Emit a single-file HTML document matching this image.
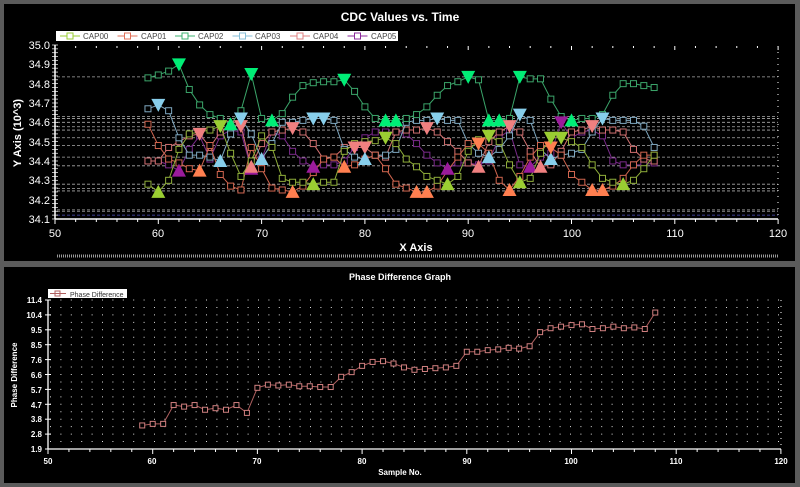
<!DOCTYPE html>
<html><head><meta charset="utf-8"><style>
html,body{margin:0;padding:0;background:#5b5b5b;width:800px;height:487px;overflow:hidden}
svg{display:block;font-family:"Liberation Sans",Arial,sans-serif}
</style></head><body>
<svg id="s" width="800" height="487" xmlns="http://www.w3.org/2000/svg">
<rect x="0" y="0" width="800" height="487" fill="#5b5b5b"/>
<rect x="4" y="4" width="791" height="257" fill="#000"/>
<rect x="4" y="267" width="791" height="216" fill="#000"/>
<text x="400" y="21" fill="#fff" font-size="12" font-weight="bold" text-anchor="middle">CDC Values vs. Time</text>
<rect x="56" y="31" width="342" height="10" fill="#fff"/>
<g font-size="8" fill="#444">
<text x="83" y="39">CAP00</text><text x="141" y="39">CAP01</text><text x="198" y="39">CAP02</text>
<text x="255" y="39">CAP03</text><text x="313" y="39">CAP04</text><text x="371" y="39">CAP05</text></g>
<g id="top"></g>
<g font-size="11" fill="#fff" text-anchor="end">
<text x="50" y="49">35.0</text><text x="50" y="68">34.9</text><text x="50" y="88">34.8</text><text x="50" y="107">34.7</text><text x="50" y="126">34.6</text><text x="50" y="146">34.5</text><text x="50" y="165">34.4</text><text x="50" y="184">34.3</text><text x="50" y="204">34.2</text><text x="50" y="223">34.1</text></g>
<g font-size="11" fill="#fff" text-anchor="middle">
<text x="55" y="237">50</text><text x="158" y="237">60</text><text x="262" y="237">70</text><text x="365" y="237">80</text><text x="468" y="237">90</text><text x="572" y="237">100</text><text x="675" y="237">110</text><text x="778" y="237">120</text></g>
<text x="416" y="251" fill="#fff" font-size="11" font-weight="bold" text-anchor="middle">X Axis</text>
<text transform="translate(21,133) rotate(-90)" fill="#fff" font-size="11" font-weight="bold" text-anchor="middle">Y Axis (10^3)</text>
<line x1="57" y1="256" x2="778" y2="256" stroke="#999" stroke-width="3" stroke-dasharray="1,1"/>
<text x="400" y="280" fill="#fff" font-size="9" font-weight="bold" text-anchor="middle">Phase Difference Graph</text>
<rect x="48" y="289" width="79" height="9" fill="#fff"/>
<line x1="50" y1="293.5" x2="66" y2="293.5" stroke="#b06060"/><rect x="55" y="291" width="5" height="5" fill="none" stroke="#b06060"/>
<text x="70" y="297" font-size="7" fill="#333">Phase Difference</text>
<g id="bot"></g>
<g font-size="8" fill="#fff" text-anchor="end" font-weight="bold">
<text x="42" y="303">11.4</text><text x="42" y="318">10.4</text><text x="42" y="333">9.5</text><text x="42" y="348">8.5</text><text x="42" y="363">7.6</text><text x="42" y="378">6.6</text><text x="42" y="393">5.7</text><text x="42" y="408">4.7</text><text x="42" y="422">3.8</text><text x="42" y="437">2.8</text><text x="42" y="452">1.9</text></g>
<g font-size="8" fill="#fff" text-anchor="middle" font-weight="bold">
<text x="48" y="464">50</text><text x="152" y="464">60</text><text x="257" y="464">70</text><text x="362" y="464">80</text><text x="467" y="464">90</text><text x="571" y="464">100</text><text x="676" y="464">110</text><text x="781" y="464">120</text></g>
<text x="400" y="475" fill="#fff" font-size="8" font-weight="bold" text-anchor="middle">Sample No.</text>
<text transform="translate(17,375) rotate(-90)" fill="#fff" font-size="8" font-weight="bold" text-anchor="middle">Phase Difference</text>
</svg>
<script>
var NS="http://www.w3.org/2000/svg";
function el(p,t,a){var e=document.createElementNS(NS,t);for(var k in a)e.setAttribute(k,a[k]);p.appendChild(e);return e;}
var T=document.getElementById("top"),B=document.getElementById("bot"),S=document.getElementById("s");
// legend symbols
var lc=["#9acd32","#e0705a","#3cb371","#87bfd8","#e08080","#8b2a9b"];
for(var i=0;i<6;i++){var lx=60+i*57.5;el(S,"line",{x1:lx,y1:36,x2:lx+20,y2:36,stroke:lc[i]});el(S,"rect",{x:lx+7,y:33,width:6,height:6,fill:"#fff",stroke:lc[i]});}
function tx(x){return 55+(x-50)*10.33;} function ty(v){return 45+(35-v)*193.3;}
// dashed lines
[34.835,34.63,34.62,34.6,34.577,34.56,34.52,34.48,34.42,34.375,34.28,34.257,34.245,34.147,34.14].forEach(function(v){el(T,"line",{x1:57,x2:778,y1:ty(v),y2:ty(v),stroke:"#aaa","stroke-width":0.8,"stroke-dasharray":"3,2"});});
el(T,"line",{x1:57,x2:778,y1:ty(34.12),y2:ty(34.12),stroke:"#5050c0","stroke-width":0.8,"stroke-dasharray":"3,2"});
// axes
el(T,"line",{x1:55,y1:45,x2:55,y2:219,stroke:"#fff","stroke-width":1.5});
el(T,"line",{x1:55,y1:219,x2:778,y2:219,stroke:"#fff","stroke-width":1.5});
el(T,"line",{x1:778,y1:46,x2:778,y2:219,stroke:"#fff","stroke-dasharray":"1,5"});
for(var x=50;x<=120;x+=2){var p=tx(x),big=x%10==0;el(T,"line",{x1:p,x2:p,y1:219,y2:big?224:222,stroke:"#fff"});el(T,"line",{x1:p,x2:p,y1:46,y2:big?50:48,stroke:"#fff"});}
for(var v=34.1;v<=35.001;v+=0.02){var q=ty(v);el(T,"line",{x1:52,x2:58,y1:q,y2:q,stroke:"#fff","stroke-width":0.7});}
var D={
c0:[34.28,34.24,34.3,34.46,34.54,34.55,34.56,34.58,34.44,34.32,34.4,34.53,34.47,34.31,34.29,34.29,34.28,34.29,34.29,34.45,34.49,34.5,34.505,34.52,34.49,34.41,34.37,34.32,34.3,34.28,34.32,34.45,34.51,34.53,34.5,34.38,34.29,34.31,34.44,34.52,34.52,34.5,34.47,34.38,34.31,34.29,34.28,34.3,34.36,34.43],
c1:[34.59,34.48,34.41,34.39,34.36,34.35,34.48,34.33,34.27,34.25,34.47,34.36,34.26,34.25,34.24,34.27,34.34,34.41,34.42,34.37,34.38,34.41,34.43,34.36,34.28,34.26,34.24,34.24,34.27,34.35,34.42,34.49,34.49,34.44,34.3,34.25,34.32,34.42,34.48,34.47,34.43,34.33,34.29,34.25,34.25,34.27,34.31,34.38,34.43,34.43],
c2:[34.83,34.845,34.865,34.9,34.77,34.69,34.64,34.62,34.59,34.66,34.85,34.62,34.61,34.645,34.73,34.79,34.805,34.81,34.81,34.82,34.76,34.68,34.62,34.61,34.61,34.62,34.64,34.68,34.74,34.79,34.81,34.835,34.82,34.61,34.61,34.62,34.835,34.825,34.825,34.72,34.63,34.61,34.62,34.62,34.64,34.74,34.8,34.8,34.79,34.78],
c3:[34.67,34.69,34.66,34.52,34.43,34.43,34.42,34.4,34.54,34.62,34.54,34.41,34.49,34.6,34.6,34.61,34.62,34.62,34.61,34.46,34.42,34.41,34.43,34.43,34.46,34.6,34.61,34.61,34.62,34.61,34.61,34.49,34.44,34.42,34.46,34.53,34.64,34.61,34.46,34.41,34.43,34.44,34.46,34.55,34.62,34.61,34.61,34.61,34.58,34.47],
c4:[34.4,34.4,34.47,34.5,34.53,34.54,34.47,34.55,34.59,34.58,34.37,34.49,34.55,34.56,34.57,34.55,34.49,34.41,34.42,34.47,34.47,34.47,34.43,34.42,34.55,34.56,34.56,34.57,34.55,34.5,34.45,34.39,34.37,34.5,34.55,34.58,34.55,34.45,34.37,34.38,34.45,34.55,34.56,34.58,34.56,34.56,34.55,34.46,34.41,34.4],
c5:[34.4,34.4,34.38,34.35,34.46,34.53,34.41,34.53,34.56,34.55,34.36,34.41,34.55,34.53,34.45,34.4,34.37,34.38,34.38,34.4,34.47,34.52,34.55,34.55,34.55,34.54,34.49,34.43,34.39,34.36,34.39,34.39,34.38,34.4,34.52,34.56,34.38,34.37,34.42,34.44,34.6,34.52,34.55,34.56,34.53,34.4,34.38,34.38,34.38,34.39]};
var TR={c0:{60:"u",66:"d",75:"u",82:"d",88:"u",92:"d",95:"u",98:"d",99:"d",105:"u"},
c1:{64:"u",73:"u",78:"u",85:"u",86:"u",91:"d",94:"u",98:"d",102:"u",103:"u"},
c2:{62:"d",67:"u",69:"d",71:"u",78:"d",82:"u",83:"u",90:"d",92:"u",93:"u",95:"d",100:"u"},
c3:{60:"d",66:"u",68:"d",70:"u",75:"d",76:"d",80:"u",87:"d",92:"u",95:"d",98:"u",103:"d"},
c4:{64:"d",68:"d",69:"u",73:"d",79:"d",80:"d",86:"d",91:"u",94:"d",97:"u",102:"d"},
c5:{62:"u",69:"u",75:"u",88:"u",96:"u",99:"d"}};
var LC={c0:"#8fae3a",c1:"#d0654f",c2:"#3ba56a",c3:"#7fa8c0",c4:"#d07070",c5:"#7a2a8a"};
var MC={c0:"#9acd32",c1:"#ff7f50",c2:"#00ee76",c3:"#87ceeb",c4:"#f08080",c5:"#9b1b9b"};
["c5","c4","c3","c1","c0","c2"].forEach(function(k){var a=D[k],pts=[];for(var i=0;i<a.length;i++)pts.push(tx(59+i)+","+ty(a[i]));
el(T,"polyline",{points:pts.join(" "),fill:"none",stroke:LC[k],"stroke-width":1});
for(var i=0;i<a.length;i++){var X=tx(59+i),Y=ty(a[i]),t=TR[k][59+i];
if(!t)el(T,"rect",{x:X-3,y:Y-3,width:6,height:6,fill:"#000",stroke:LC[k],"stroke-width":1});}});
["c5","c4","c3","c1","c0","c2"].forEach(function(k){var a=D[k];for(var i=0;i<a.length;i++){var X=tx(59+i),Y=ty(a[i]),t=TR[k][59+i];
if(t=="u")el(T,"polygon",{points:(X-7)+","+(Y+6)+" "+(X+7)+","+(Y+6)+" "+X+","+(Y-7),fill:MC[k]});
if(t=="d")el(T,"polygon",{points:(X-7)+","+(Y-6)+" "+(X+7)+","+(Y-6)+" "+X+","+(Y+7),fill:MC[k]});}});
// bottom
function bx(x){return 48+(x-50)*10.47;} function by(v){return 300+(11.4-v)*15.68;}
for(var r=0;r<=20;r++){var yy=300+r*7.45;el(B,"line",{x1:50,x2:781,y1:yy,y2:yy,stroke:"#ddd","stroke-width":1,"stroke-dasharray":"1,9.4"});}
el(B,"line",{x1:48,y1:300,x2:48,y2:449,stroke:"#fff","stroke-width":1.3});
el(B,"line",{x1:48,y1:449,x2:781,y2:449,stroke:"#fff","stroke-width":1.3});
el(B,"line",{x1:781,y1:300,x2:781,y2:449,stroke:"#fff","stroke-dasharray":"1,5"});
for(var x=50;x<=120;x+=2){var p=bx(x);el(B,"line",{x1:p,x2:p,y1:449,y2:x%10==0?454:452,stroke:"#fff"});}
for(var r=0;r<=10;r++){var yy=300+r*14.9;el(B,"line",{x1:45,x2:51,y1:yy,y2:yy,stroke:"#fff"});}
var P=[3.4,3.5,3.5,4.7,4.6,4.7,4.4,4.5,4.4,4.7,4.2,5.8,6.0,5.95,6.0,5.9,5.9,5.85,5.85,6.5,6.8,7.2,7.45,7.5,7.35,7.1,6.95,7.0,7.05,7.1,7.2,8.1,8.1,8.2,8.25,8.35,8.3,8.45,9.35,9.6,9.7,9.8,9.85,9.55,9.6,9.7,9.6,9.65,9.55,10.6];
var pp=[];for(var i=0;i<P.length;i++)pp.push(bx(59+i)+","+by(P[i]));
el(B,"polyline",{points:pp.join(" "),fill:"none",stroke:"#b06060","stroke-width":1});
for(var i=0;i<P.length;i++)el(B,"rect",{x:bx(59+i)-2.5,y:by(P[i])-2.5,width:5,height:5,fill:"#000",stroke:"#d08080","stroke-width":1});
</script>
</body></html>
